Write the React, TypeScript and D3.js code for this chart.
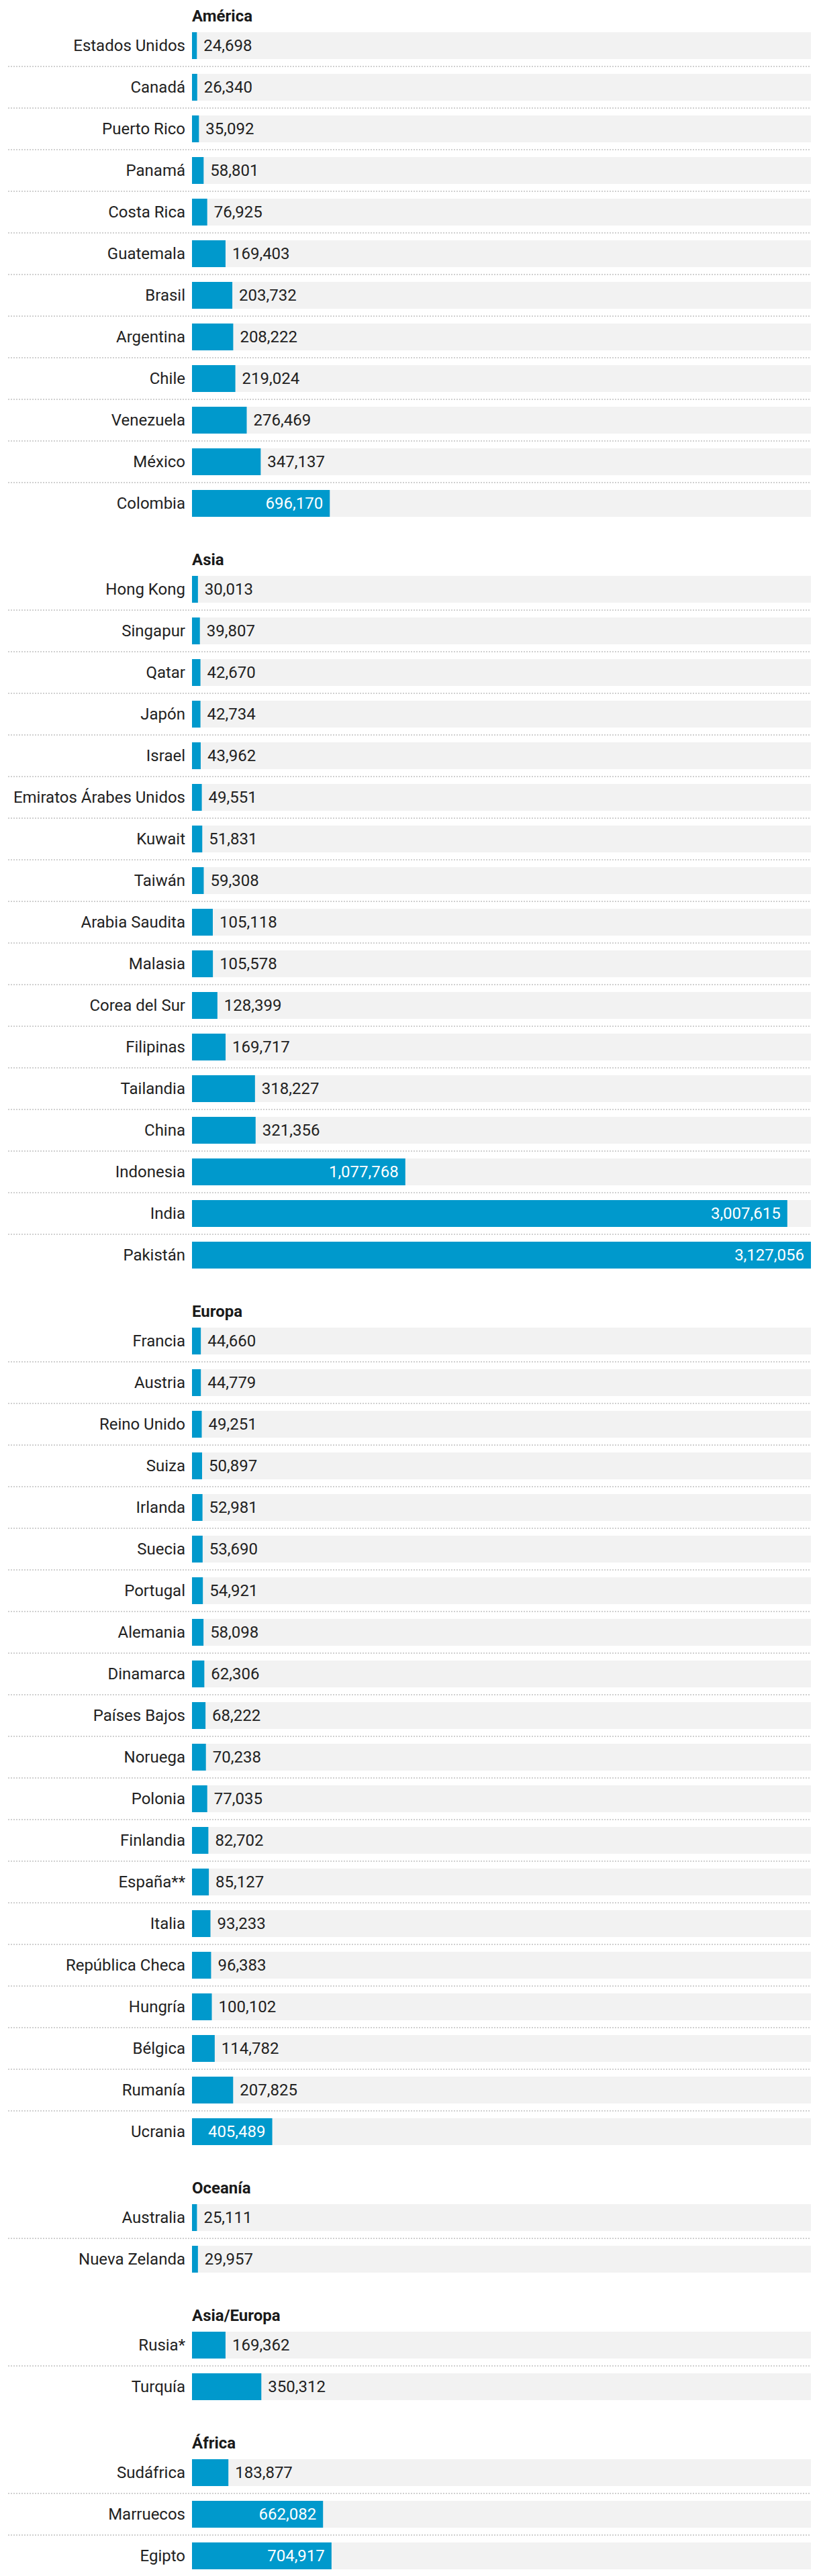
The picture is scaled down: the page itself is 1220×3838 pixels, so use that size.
import * as d3 from "d3";

const americaPaises = ["Estados Unidos", "Canadá", "Puerto Rico", "Panamá", "Costa Rica", "Guatemala", "Brasil", "Argentina", "Chile", "Venezuela", "México", "Colombia"];
const americaValores = [24698, 26340, 35092, 58801, 76925, 169403, 203732, 208222, 219024, 276469, 347137, 696170];

const asiaPaises = ["Hong Kong", "Singapur", "Qatar", "Japón", "Israel", "Emiratos Árabes Unidos", "Kuwait", "Taiwán", "Arabia Saudita", "Malasia", "Corea del Sur", "Filipinas", "Tailandia", "China", "Indonesia", "India", "Pakistán"];
const asiaValores = [30013, 39807, 42670, 42734, 43962, 49551, 51831, 59308, 105118, 105578, 128399, 169717, 318227, 321356, 1077768, 3007615, 3127056];

const europaPaises = ["Francia", "Austria", "Reino Unido", "Suiza", "Irlanda", "Suecia", "Portugal", "Alemania", "Dinamarca", "Países Bajos", "Noruega", "Polonia", "Finlandia", "España**", "Italia", "República Checa", "Hungría", "Bélgica", "Rumanía", "Ucrania"];
const europaValores = [44660, 44779, 49251, 50897, 52981, 53690, 54921, 58098, 62306, 68222, 70238, 77035, 82702, 85127, 93233, 96383, 100102, 114782, 207825, 405489];

const oceaniaPaises = ["Australia", "Nueva Zelanda"];
const oceaniaValores = [25111, 29957];

const asiaEuropaPaises = ["Rusia*", "Turquía"];
const asiaEuropaValores = [169362, 350312];

const africaPaises = ["Sudáfrica", "Marruecos", "Egipto"];
const africaValores = [183877, 662082, 704917];

const regiones = ["América", "Asia", "Europa", "Oceanía", "Asia/Europa", "África"];

const WIDTH = 1220;
const HEIGHT = 3838;
const BAR_X = 286;
const BAR_END = 1208;
const ROW = 62;
const BAR_H = 40;
const HEAD = 48;
const GROUP_GAP = 66;
const FONT = 24;
const BLUE = "#0099cc";
const TEXT = "#222222";

const fmt = d3.format(",");

function textWidth(label: string): number {
  let w = 0;
  for (const ch of label) w += ch === "," ? 0.2 : 0.5615;
  return w * FONT;
}

export default function App() {
  const groups = [
    { name: regiones[0], paises: americaPaises, valores: americaValores },
    { name: regiones[1], paises: asiaPaises, valores: asiaValores },
    { name: regiones[2], paises: europaPaises, valores: europaValores },
    { name: regiones[3], paises: oceaniaPaises, valores: oceaniaValores },
    { name: regiones[4], paises: asiaEuropaPaises, valores: asiaEuropaValores },
    { name: regiones[5], paises: africaPaises, valores: africaValores },
  ];
  const max = d3.max(groups.flatMap((g) => g.valores)) ?? 1;
  const x = d3.scaleLinear().domain([0, max]).range([0, BAR_END - BAR_X]);

  let offset = 0;
  const laidOut = groups.map((g) => {
    const top = offset;
    offset += g.paises.length * ROW + GROUP_GAP;
    return { ...g, top };
  });

  return (
    <div style={{ position: "absolute", left: 0, top: 0 }}>
      <svg width={WIDTH} height={HEIGHT} viewBox={`0 0 ${WIDTH} ${HEIGHT}`} style={{ display: "block", fontFamily: "Roboto, sans-serif" }}>
        <rect width={WIDTH} height={HEIGHT} fill="#ffffff" />
        {laidOut.map((g) => (
          <g key={g.name} transform={`translate(0 ${g.top})`}>
            <text x={BAR_X} y={HEAD - 16} fontSize={FONT} fontWeight="700" fill="#1a1a1a">
              {g.name}
            </text>
            {g.paises.map((pais, i) => {
              const y = HEAD + i * ROW;
              const w = x(g.valores[i]);
              const label = fmt(g.valores[i]);
              const inside = w >= textWidth(label) + 24;
              const baseline = y + BAR_H / 2 + 8.4;
              return (
                <g key={pais}>
                  <rect x={BAR_X} y={y} width={BAR_END - BAR_X} height={BAR_H} fill="#f2f2f2" />
                  <rect x={BAR_X} y={y} width={w} height={BAR_H} fill={BLUE} />
                  <text x={BAR_X - 10} y={baseline} textAnchor="end" fontSize={FONT} fill={TEXT}>
                    {pais}
                  </text>
                  <text
                    x={inside ? BAR_X + w - 10 : BAR_X + w + 10}
                    y={baseline}
                    textAnchor={inside ? "end" : "start"}
                    fontSize={FONT}
                    fill={inside ? "#ffffff" : TEXT}
                  >
                    {label}
                  </text>
                  {i < g.paises.length - 1 && (
                    <line x1={12} x2={BAR_END} y1={y + BAR_H + 11} y2={y + BAR_H + 11} stroke="#d0d0d0" strokeWidth={2} strokeDasharray="2 2" />
                  )}
                </g>
              );
            })}
          </g>
        ))}
      </svg>
    </div>
  );
}
